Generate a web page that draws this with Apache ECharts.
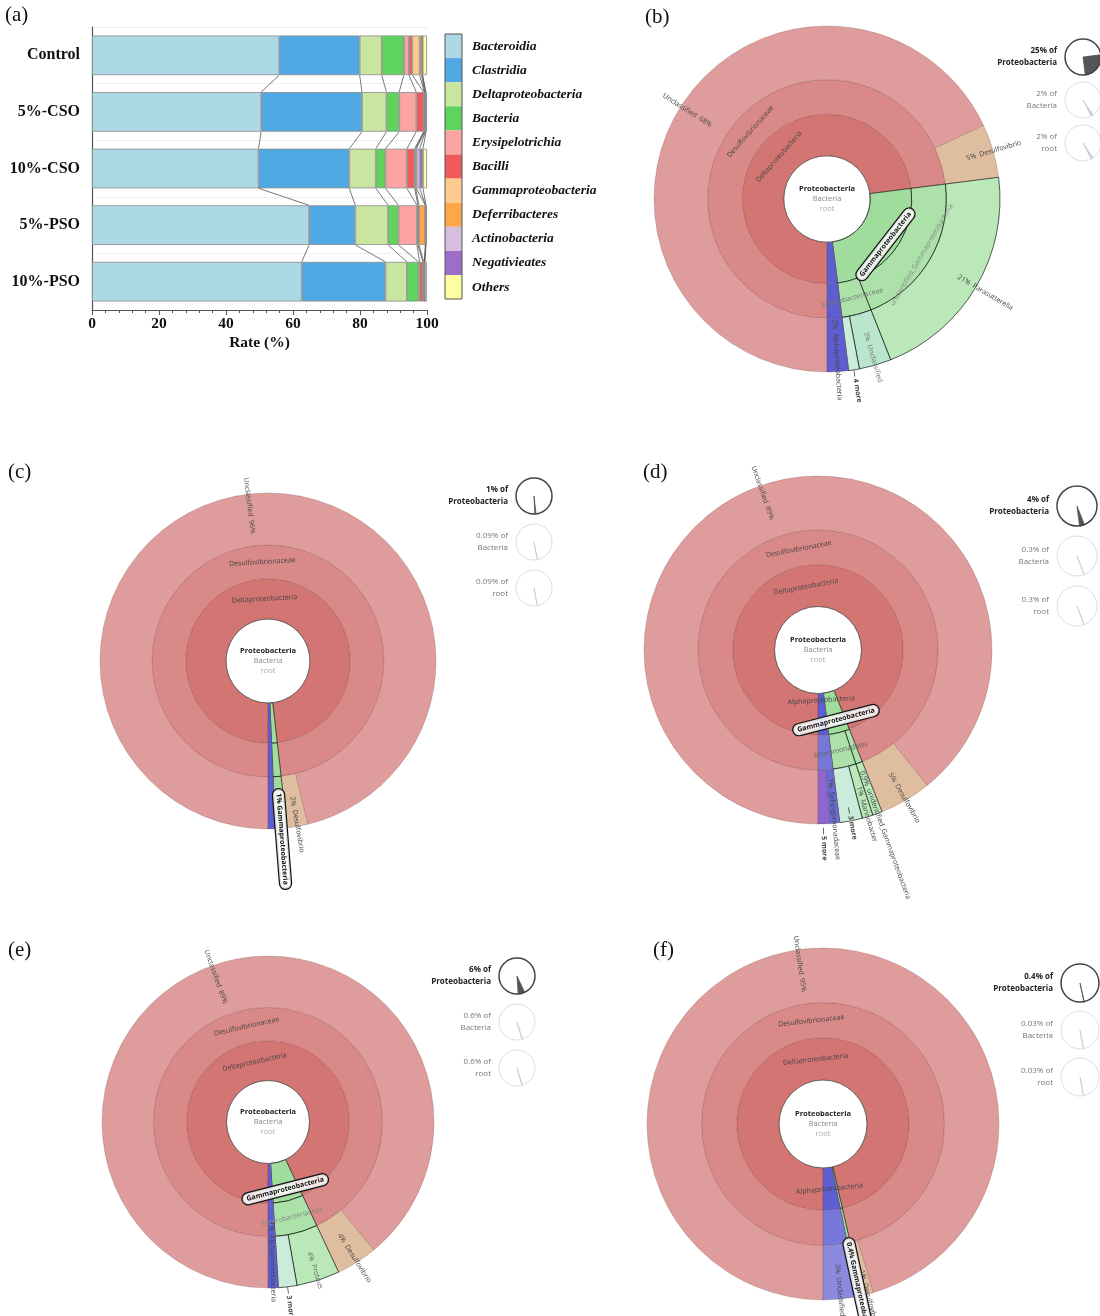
<!DOCTYPE html>
<html>
<head>
<meta charset="utf-8">
<script src="https://cdn.jsdelivr.net/npm/echarts@6/dist/echarts.min.js"></script>
<style>
  html, body { margin: 0; padding: 0; background: #fff; }
  #grafico { width: 1100px; height: 1316px; }
</style>
</head>
<body>
<div id="grafico"></div>
<script>
/* ---------- (a) barras apiladas: % por grupo ---------- */
var grupos = ['Control', '5%-CSO', '10%-CSO', '5%-PSO', '10%-PSO'];
var clases = ['Bacteroidia', 'Clastridia', 'Deltaproteobacteria', 'Bacteria', 'Erysipelotrichia',
  'Bacilli', 'Gammaproteobacteria', 'Deferribacteres', 'Actinobacteria', 'Negativieates', 'Others'];
var bacteroidia = [55.9, 50.5, 49.7, 64.8, 62.6];
var clastridia = [24.0, 30.1, 27.1, 13.8, 25.0];
var deltaproteo = [6.6, 7.3, 7.9, 9.8, 6.4];
var bacteria = [6.6, 3.8, 2.9, 3.1, 3.5];
var erysipelo = [1.5, 5.1, 6.4, 5.5, 0.3];
var bacilli = [1.0, 2.2, 2.3, 0.3, 1.0];
var gammaproteo = [2.2, 0.2, 0.3, 0.3, 0.2];
var deferri = [0.6, 0.1, 0.2, 1.9, 0.2];
var actino = [0.2, 0.2, 1.0, 0.1, 0.1];
var negativ = [0.1, 0.2, 1.0, 0.1, 0.1];
var otros = [1.3, 0.3, 1.2, 0.3, 0.6];
var xTicks = [0, 20, 40, 60, 80, 100];

/* ---------- (b)-(f) arboles Krona: [nombre, valor, hijos] ---------- */
var arbolB = [
  ['Deltaproteobacteria', 73, [['Desulfovibrionaceae', 73, [['Unclassified', 68], ['Desulfovibrio', 5]]]]],
  ['Gammaproteobacteria', 25, [
    ['unidentified_Gammaproteobacteria', 21, [['Parasutterella', 21]]],
    ['Enterobacteriaceae', 4, [['Unclassified', 3], ['4 more', 1]]]]],
  ['Alphaproteobacteria', 2]
];
var arbolC = [
  ['Deltaproteobacteria', 98.2, [['Desulfovibrionaceae', 98.2, [['Unclassified', 96.2], ['Desulfovibrio', 2.0]]]]],
  ['Gammaproteobacteria', 1.1],
  ['Alphaproteobacteria', 0.7]
];
var arbolD = [
  ['Deltaproteobacteria', 94, [['Desulfovibrionaceae', 94, [['Unclassified', 89.2], ['Desulfovibrio', 4.8]]]]],
  ['Gammaproteobacteria', 4, [
    ['unidentified_Gammaproteobacteria', 0.9, [['unidentified_Gammaproteobacteria', 0.9]]],
    ['Alteromonadales', 3.1, [['Marinobacter', 1.0], ['3 more', 2.1]]]]],
  ['Alphaproteobacteria', 2, [['Alphaproteobacteria', 2, [['Sphingomonadaceae', 1.0], ['5 more', 1.0]]]]]
];
var arbolE = [
  ['Deltaproteobacteria', 93, [['Desulfovibrionaceae', 93, [['Unclassified', 89], ['Desulfovibrio', 4]]]]],
  ['Gammaproteobacteria', 6, [['Enterobacteriaceae', 6, [['Proteus', 4.2], ['3 more', 1.8]]]]],
  ['Alphaproteobacteria', 1]
];
var arbolF = [
  ['Deltaproteobacteria', 96.4, [['Desulfovibrionaceae', 96.4, [['Unclassified', 95.4], ['Desulfovibrio', 1.0]]]]],
  ['Gammaproteobacteria', 0.4],
  ['Alphaproteobacteria', 3.2, [['Unclassified', 3.2, [['Unclassified', 3.2]]]]]
];

// textos de los indicadores (seleccionado, Bacteria, root)
var nivelesInd = ['Proteobacteria', 'Bacteria', 'root'];
var indB = ['25%', '2%', '2%'];
var indC = ['1%', '0.09%', '0.09%'];
var indD = ['4%', '0.3%', '0.3%'];
var indE = ['6%', '0.6%', '0.6%'];
var indF = ['0.4%', '0.03%', '0.03%'];
// posicion angular (fraccion desde abajo) de la cuña en los indicadores pequeños
var giroB = 0.905, giroC = 0.97, giroD = 0.94, giroE = 0.95, giroF = 0.97;

/* ---------- estilos ---------- */
var coloresClase = ['#ADD8E6', '#51A9E3', '#C9E6A0', '#5ED45E', '#FCA3A3', '#EF5B5B',
  '#FECB90', '#FDA64A', '#D7BEDD', '#9E6DC7', '#FDFDA2'];
var paletas = {
  Deltaproteobacteria: ['#D37573', '#D98987', '#DE9D9C'],
  Gammaproteobacteria: ['#A0DD9D', '#ACE2AA', '#BAE8B8'],
  Alphaproteobacteria: ['#5E5ED1', '#7777D9', '#8B8ADE']
};
var especiales = {
  'Deltaproteobacteria:Desulfovibrio': '#DFBD9F',
  'Gammaproteobacteria:Unclassified': '#B9E6CC',
  'Gammaproteobacteria:4 more': '#C9EDDA',
  'Gammaproteobacteria:3 more': '#C9EDDA',
  'Alphaproteobacteria:Sphingomonadaceae': '#6B6BD5',
  'Alphaproteobacteria:5 more': '#8F66CD'
};
var serif = '"Liberation Serif", "Times New Roman", serif';
var sans = '"Open Sans", "Noto Sans", sans-serif';

// etiquetas por panel: clave = clase:nivel:nombre  (dr = desplazamiento hacia el centro, px)
var etqB = {
  'Deltaproteobacteria:1:Deltaproteobacteria': { t: 'tan' },
  'Deltaproteobacteria:2:Desulfovibrionaceae': { t: 'tan' },
  'Deltaproteobacteria:3:Unclassified': { t: 'rad', r: 1.12 },
  'Deltaproteobacteria:3:Desulfovibrio': { t: 'rad', r: 0.84 },
  'Gammaproteobacteria:1:Gammaproteobacteria': { t: 'tan', pill: true, dr: -10 },
  'Gammaproteobacteria:2:unidentified_Gammaproteobacteria': { t: 'tan', c: '#888', dr: -8 },
  'Gammaproteobacteria:2:Enterobacteriaceae': { t: 'tan', c: '#777' },
  'Gammaproteobacteria:3:Parasutterella': { t: 'rad', r: 0.88 },
  'Gammaproteobacteria:3:Unclassified': { t: 'rad', r: 0.8, c: '#777' },
  'Gammaproteobacteria:3:4 more': { t: 'rad', r: 1.0 },
  'Alphaproteobacteria:3:Alphaproteobacteria': { t: 'rad', r: 0.7 }
};
var etqC = {
  'Deltaproteobacteria:1:Deltaproteobacteria': { t: 'tan' },
  'Deltaproteobacteria:2:Desulfovibrionaceae': { t: 'tan' },
  'Deltaproteobacteria:3:Unclassified': { t: 'rad', r: 1.1 },
  'Deltaproteobacteria:3:Desulfovibrio': { t: 'rad', r: 0.82 },
  'Gammaproteobacteria:3:Gammaproteobacteria': { t: 'rad', r: 0.76, pill: true }
};
var etqD = {
  'Deltaproteobacteria:1:Deltaproteobacteria': { t: 'tan' },
  'Deltaproteobacteria:2:Desulfovibrionaceae': { t: 'tan' },
  'Deltaproteobacteria:3:Unclassified': { t: 'rad', r: 1.12 },
  'Deltaproteobacteria:3:Desulfovibrio': { t: 'rad', r: 0.82 },
  'Alphaproteobacteria:1:Alphaproteobacteria': { t: 'tan', dr: 14 },
  'Gammaproteobacteria:1:Gammaproteobacteria': { t: 'tan', pill: true, dr: -8 },
  'Gammaproteobacteria:2:Alteromonadales': { t: 'tan', c: '#666' },
  'Gammaproteobacteria:3:unidentified_Gammaproteobacteria': { t: 'rad', r: 0.74 },
  'Gammaproteobacteria:3:Marinobacter': { t: 'rad', r: 0.82 },
  'Gammaproteobacteria:3:3 more': { t: 'rad', r: 0.92 },
  'Alphaproteobacteria:3:Sphingomonadaceae': { t: 'rad', r: 0.74 },
  'Alphaproteobacteria:3:5 more': { t: 'rad', r: 1.02 }
};
var etqE = {
  'Deltaproteobacteria:1:Deltaproteobacteria': { t: 'tan' },
  'Deltaproteobacteria:2:Desulfovibrionaceae': { t: 'tan' },
  'Deltaproteobacteria:3:Unclassified': { t: 'rad', r: 1.1 },
  'Deltaproteobacteria:3:Desulfovibrio': { t: 'rad', r: 0.8 },
  'Gammaproteobacteria:1:Gammaproteobacteria': { t: 'tan', pill: true, dr: -8 },
  'Gammaproteobacteria:2:Enterobacteriaceae': { t: 'tan', c: '#888' },
  'Gammaproteobacteria:3:Proteus': { t: 'rad', r: 0.82, c: '#666' },
  'Gammaproteobacteria:3:3 more': { t: 'rad', r: 1.0 },
  'Alphaproteobacteria:3:Alphaproteobacteria': { t: 'rad', r: 0.6 }
};
var etqF = {
  'Deltaproteobacteria:1:Deltaproteobacteria': { t: 'tan' },
  'Deltaproteobacteria:2:Desulfovibrionaceae': { t: 'tan' },
  'Deltaproteobacteria:3:Unclassified': { t: 'rad', r: 1.08 },
  'Deltaproteobacteria:3:Desulfovibrio': { t: 'rad', r: 0.86 },
  'Alphaproteobacteria:1:Alphaproteobacteria': { t: 'tan' },
  'Alphaproteobacteria:3:Unclassified': { t: 'rad', r: 0.8 },
  'Gammaproteobacteria:3:Gammaproteobacteria': { t: 'rad', r: 0.66, pill: true }
};

var paneles = [
  { letra: '(b)', lx: 645, ly: 17, arbol: arbolB, etq: etqB, cx: 827, cy: 199, R: 173, ind: indB, giro: giroB, ix: 1083, iy: 57, idy: 43, ir: 18 },
  { letra: '(c)', lx: 8, ly: 472, arbol: arbolC, etq: etqC, cx: 268, cy: 661, R: 168, ind: indC, giro: giroC, ix: 534, iy: 496, idy: 46, ir: 18 },
  { letra: '(d)', lx: 643, ly: 472, arbol: arbolD, etq: etqD, cx: 818, cy: 650, R: 174, ind: indD, giro: giroD, ix: 1077, iy: 506, idy: 50, ir: 20 },
  { letra: '(e)', lx: 8, ly: 950, arbol: arbolE, etq: etqE, cx: 268, cy: 1122, R: 166, ind: indE, giro: giroE, ix: 517, iy: 976, idy: 46, ir: 18 },
  { letra: '(f)', lx: 653, ly: 950, arbol: arbolF, etq: etqF, cx: 823, cy: 1124, R: 176, ind: indF, giro: giroF, ix: 1080, iy: 983, idy: 47, ir: 19 }
];

var lienzo = document.createElement('canvas').getContext('2d');
function ancho(txt, size, bold) {
  lienzo.font = (bold ? 'bold ' : '') + size + 'px ' + sans;
  return lienzo.measureText(txt).width;
}
function fmtPct(f) {
  var p = f * 100;
  return (p >= 1 ? Math.round(p) : Math.round(p * 10) / 10) + '%';
}
function normGrados(a) {
  while (a > 180) a -= 360;
  while (a <= -180) a += 360;
  return a;
}

// arma la etiqueta de un nodo (rotacion calculada desde el angulo medio)
// se usa texto enriquecido para que el padding desplace tambien en vertical
function etiqueta(spec, nombre, frac, medio, r0, r1, R) {
  var theta = 270 - 360 * medio;
  var derecha = Math.cos(theta * Math.PI / 180) > 0;
  var mas = /more$/.test(nombre);
  var negrita = !!(spec.b || mas || spec.pill);
  var size = 7;
  var texto, rot, pad = [0, 0, 0, 0];
  if (spec.t === 'tan') {
    texto = nombre;
    var base = normGrados(theta - 90);
    rot = base;
    if (rot > 90) rot -= 180;
    if (rot <= -90) rot += 180;
    if (spec.dr) {
      // sin giro: +y local apunta al centro; con giro: hacia afuera
      var haciaCentro = Math.abs(normGrados(rot - base)) < 1;
      var d = 2 * Math.abs(spec.dr);
      var arriba = (spec.dr > 0) === haciaCentro;
      if (arriba) pad[0] = d; else pad[2] = d;
    }
  } else {
    var pct = fmtPct(frac);
    var sep = spec.pill ? ' ' : '  ';
    texto = mas ? '— ' + nombre : (derecha ? pct + sep + nombre : nombre + sep + pct);
    rot = normGrados(derecha ? theta : theta - 180);
    var w = ancho(texto, size, negrita) + (spec.pill ? 10 : 0);
    var rs = spec.r * R;
    var centro = derecha ? rs + w / 2 : rs - w / 2;
    var corr = (centro - (r0 + r1) / 2) * (derecha ? 1 : -1);
    if (corr > 0) pad[3] = 2 * corr; else pad[1] = -2 * corr;
  }
  var estiloTexto = {
    fontFamily: sans, fontSize: size, fontWeight: negrita ? 'bold' : 'normal', color: spec.c || '#444'
  };
  if (spec.pill) {
    estiloTexto = {
      backgroundColor: 'rgba(255,255,255,0.85)', borderColor: '#111', borderWidth: 1.2, borderRadius: 6,
      padding: [2, 4], fontFamily: sans, fontSize: size, fontWeight: 'bold', color: '#111'
    };
  }
  return {
    show: true, rotate: rot, align: 'center', padding: pad,
    fontFamily: sans, fontSize: size, color: '#444',
    formatter: '{n|' + texto + '}',
    rich: { n: estiloTexto }
  };
}

function construir(p) {
  var total = p.arbol.reduce(function (s, it) { return s + it[1]; }, 0);
  var radios = [p.R * 0.25, p.R * 0.49, p.R * 0.69, p.R];
  function nodos(lista, depth, raiz, inicio, colorPadre) {
    var pos = inicio;
    return lista.map(function (it) {
      var nombre = it[0], valor = it[1], hijos = it[2];
      var clase = depth === 1 ? nombre : raiz;
      var ext = colorPadre != null;
      var color = ext ? colorPadre : (especiales[clase + ':' + nombre] || paletas[clase][depth - 1]);
      var n = { name: nombre, value: valor };
      if (hijos) n.children = nodos(hijos, depth + 1, clase, pos, null);
      else if (depth < 3) n.children = nodos([[nombre, valor]], depth + 1, clase, pos, color); // extender hasta el borde
      var sel = clase === 'Gammaproteobacteria';
      n.itemStyle = {
        color: color,
        borderColor: sel ? 'rgba(0,0,0,0.7)' : 'rgba(90,40,40,0.35)',
        borderWidth: sel ? 0.9 : 0.6
      };
      var spec = p.etq[clase + ':' + depth + ':' + nombre];
      n.label = spec
        ? etiqueta(spec, nombre, valor / total, (pos + valor / 2) / total, radios[depth - 1], radios[depth], p.R)
        : { show: false };
      pos += valor;
      return n;
    });
  }
  return {
    total: total,
    serie: {
      type: 'sunburst', center: [p.cx, p.cy], radius: [radios[0], p.R],
      startAngle: -90, clockwise: true, sort: null, silent: true,
      emphasis: { focus: 'none' },
      levels: [{}, { r0: radios[0], r: radios[1] }, { r0: radios[1], r: radios[2] }, { r0: radios[2], r: radios[3] }],
      label: { show: false },
      data: nodos(p.arbol, 1, null, 0, null)
    }
  };
}

/* ---------- series ---------- */
var valoresClase = [bacteroidia, clastridia, deltaproteo, bacteria, erysipelo, bacilli,
  gammaproteo, deferri, actino, negativ, otros];

var series = clases.map(function (c, k) {
  return {
    name: c, type: 'bar', stack: 'total', barWidth: '70%', silent: true,
    data: valoresClase[k],
    itemStyle: { color: coloresClase[k], borderColor: '#8a8a8a', borderWidth: 0.8 }
  };
});

// lineas que unen los limites entre barras consecutivas
var conexiones = [];
for (var i = 0; i < grupos.length - 1; i++) {
  var a = 0, b = 0;
  for (var k = 0; k < clases.length - 1; k++) {
    a += valoresClase[k][i];
    b += valoresClase[k][i + 1];
    conexiones.push([a, b, i]);
  }
}
series.push({
  type: 'custom', silent: true, z: 5,
  data: conexiones,
  encode: { x: [0, 1], y: 2 },
  renderItem: function (params, api) {
    var p1 = api.coord([api.value(0), api.value(2)]);
    var p2 = api.coord([api.value(1), api.value(2) + 1]);
    var h = api.size([0, 1])[1] * 0.35;
    return {
      type: 'line',
      shape: { x1: p1[0], y1: p1[1] + h, x2: p2[0], y2: p2[1] - h },
      style: { stroke: '#555', lineWidth: 0.8 }
    };
  }
});

var graficos = [
  { type: 'text', left: 5, top: 5, style: { text: '(a)', fontFamily: serif, fontSize: 21, fill: '#111' } },
  { type: 'rect', shape: { x: 445, y: 34, width: 17, height: 265 }, style: { fill: 'none', stroke: '#555', lineWidth: 1 }, z: 50 }
];

paneles.forEach(function (p) {
  var c = construir(p);
  series.push(c.serie);
  var hole = p.R * 0.25;
  graficos.push(
    { type: 'text', x: p.lx, y: p.ly, style: { text: p.letra, fontFamily: serif, fontSize: 21, fill: '#111', verticalAlign: 'middle' } },
    { type: 'circle', shape: { cx: p.cx, cy: p.cy, r: hole }, style: { fill: 'none', stroke: '#555', lineWidth: 0.8 }, z: 50, silent: true },
    { type: 'text', x: p.cx, y: p.cy - 10, z: 60, style: { text: 'Proteobacteria', fontFamily: sans, fontSize: 7.5, fontWeight: 'bold', fill: '#222', align: 'center', verticalAlign: 'middle' } },
    { type: 'text', x: p.cx, y: p.cy, z: 60, style: { text: 'Bacteria', fontFamily: sans, fontSize: 7.5, fill: '#888', align: 'center', verticalAlign: 'middle' } },
    { type: 'text', x: p.cx, y: p.cy + 10, z: 60, style: { text: 'root', fontFamily: sans, fontSize: 7.5, fill: '#aaa', align: 'center', verticalAlign: 'middle' } }
  );
  // indicadores: pastel pequeño por nivel
  var gamma = p.arbol[1][1] / c.total;
  var antes = p.arbol[0][1] / c.total;
  p.ind.forEach(function (txt, j) {
    var y = p.iy + j * p.idy;
    var frac = j === 0 ? gamma : parseFloat(txt) / 100;
    var ini = j === 0 ? antes : p.giro;
    var fuerte = j === 0;
    series.push({
      type: 'pie', center: [p.ix, y], radius: [0, p.ir], startAngle: 270, clockwise: true,
      silent: true, label: { show: false }, labelLine: { show: false },
      data: [
        { name: 'a', value: ini, itemStyle: { color: 'rgba(0,0,0,0)' } },
        { name: 'f', value: frac, itemStyle: { color: fuerte ? '#555' : '#ccc', borderColor: fuerte ? '#555' : '#ccc', borderWidth: 0.8 } },
        { name: 'd', value: Math.max(1 - ini - frac, 0), itemStyle: { color: 'rgba(0,0,0,0)' } }
      ]
    });
    graficos.push(
      { type: 'circle', shape: { cx: p.ix, cy: y, r: p.ir }, style: { fill: 'none', stroke: fuerte ? '#444' : '#ddd', lineWidth: fuerte ? 1.5 : 1 }, z: 50, silent: true },
      { type: 'text', x: p.ix - p.ir - 8, y: y - 6, style: { text: txt + ' of', fontFamily: sans, fontSize: 8, fontWeight: fuerte ? 'bold' : 'normal', fill: fuerte ? '#222' : '#777', align: 'right', verticalAlign: 'middle' } },
      { type: 'text', x: p.ix - p.ir - 8, y: y + 6, style: { text: nivelesInd[j], fontFamily: sans, fontSize: 8, fontWeight: fuerte ? 'bold' : 'normal', fill: fuerte ? '#222' : '#777', align: 'right', verticalAlign: 'middle' } }
    );
  });
});

var chart = echarts.init(document.getElementById('grafico'));
chart.setOption({
  animation: false,
  backgroundColor: '#fff',
  grid: { left: 92, top: 27, width: 335, height: 283 },
  legend: {
    data: clases, orient: 'vertical', left: 445, top: 34, padding: 0,
    itemWidth: 17, itemHeight: 24.1, itemGap: 0, icon: 'rect', selectedMode: false,
    itemStyle: { borderWidth: 0 },
    textStyle: { fontFamily: serif, fontStyle: 'italic', fontWeight: 'bold', fontSize: 13.5, color: '#111', padding: [0, 0, 0, 5] }
  },
  xAxis: {
    type: 'value', min: xTicks[0], max: xTicks[xTicks.length - 1], interval: 20,
    name: 'Rate (%)', nameLocation: 'middle', nameGap: 25,
    nameTextStyle: { fontFamily: serif, fontWeight: 'bold', fontSize: 15.5, color: '#111' },
    axisLine: { show: true, lineStyle: { color: '#555', width: 1.2 } },
    axisTick: { show: true, length: 5, lineStyle: { color: '#555' } },
    minorTick: { show: true, splitNumber: 5, length: 3, lineStyle: { color: '#555' } },
    axisLabel: { fontFamily: serif, fontWeight: 'bold', fontSize: 15.5, color: '#111', margin: 6 },
    splitLine: { show: false }
  },
  yAxis: {
    type: 'category', data: grupos, inverse: true,
    axisLine: { lineStyle: { color: '#555', width: 1.2 } },
    axisTick: { length: 4, lineStyle: { color: '#555' } },
    axisLabel: { fontFamily: serif, fontWeight: 'bold', fontSize: 16, color: '#111', margin: 12 },
    splitLine: { show: true, lineStyle: { type: 'dotted', color: '#ddd' } }
  },
  graphic: graficos,
  series: series
});
</script>
</body>
</html>
